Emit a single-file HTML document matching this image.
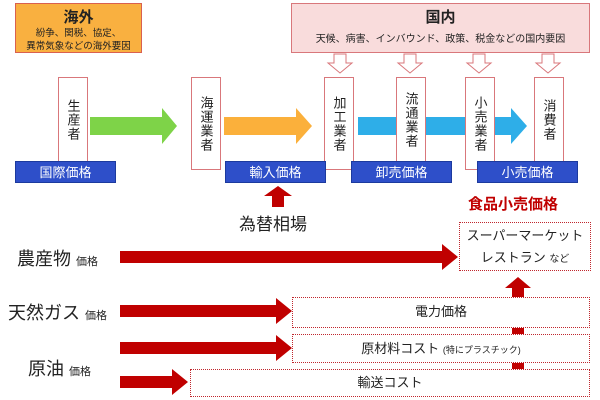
<!DOCTYPE html>
<html><head><meta charset="utf-8"><style>
body{margin:0;width:600px;height:400px;background:#fff;position:relative;overflow:hidden;font-family:"Liberation Sans","Noto Sans CJK JP",sans-serif;color:#222}
.a{position:absolute}
.v{position:absolute;border:1px solid #d9777b;background:#fff;writing-mode:vertical-rl;font-size:13px;display:flex;align-items:center;justify-content:center;letter-spacing:1px;box-sizing:border-box}
.p{position:absolute;background:#2e4fc9;color:#fff;font-size:13px;text-align:center;line-height:22px;height:22px;width:101px;border:1px solid #1c3a9e;box-sizing:border-box}
.d{position:absolute;border:1.5px dotted #c0272d;background:#fff;box-sizing:border-box;text-align:center;font-size:13px}
</style></head><body>
<div class="a" style="left:15px;top:3px;width:127px;height:50px;background:#f9b040;border:1px solid #d9604f;box-sizing:border-box;text-align:center">
<div style="font-weight:bold;font-size:15px;margin-top:2px">海外</div>
<div style="font-size:9.5px;line-height:13px">紛争、関税、協定、<br>異常気象などの海外要因</div></div>
<div class="a" style="left:291px;top:3px;width:299px;height:50px;background:#f9dcdc;border:1px solid #d9777b;box-sizing:border-box;text-align:center">
<div style="font-weight:bold;font-size:15px;margin-top:2px">国内</div>
<div style="font-size:10px;margin-top:3px">天候、病害、インバウンド、政策、税金などの国内要因</div></div>
<svg class="a" style="left:0;top:0" width="600" height="400">
<g fill="#fff" stroke="#d9777b" stroke-width="1">
<path d="M334 54h12v9h6l-12 10l-12-10h6z"/><path d="M404 54h12v9h6l-12 10l-12-10h6z"/><path d="M473 54h12v9h6l-12 10l-12-10h6z"/><path d="M542 54h12v9h6l-12 10l-12-10h6z"/></g>
<path d="M90 117h72v-9l15 18l-15 18v-9h-72z" fill="#7ed348"/>
<path d="M224 117h72v-9l16 18l-16 18v-9h-72z" fill="#fbb03b"/>
<path d="M358 117h153v-9l16 18l-16 18v-9h-153z" fill="#2eaee8"/>
<path d="M278 186l-14 10h8v11h12v-11h8z" fill="#c00000"/>
<g fill="#c00000">
<path d="M120 251h322v-7l16 13l-16 13v-7h-322z"/>
<path d="M120 305h156v-7l16 13l-16 13v-7h-156z"/>
<path d="M120 342h156v-7l16 13l-16 13v-7h-156z"/>
<path d="M120 376h52v-7l16 13l-16 13v-7h-52z"/>
<path d="M518 277l-13 11h7v9h12v-9h7z"/>
<rect x="512" y="328" width="12" height="6"/><rect x="512" y="362" width="12" height="7"/>
</g></svg>
<div class="v" style="left:58px;top:77px;width:30px;height:86px">生産者</div>
<div class="v" style="left:191px;top:77px;width:30px;height:93px">海運業者</div>
<div class="v" style="left:324px;top:77px;width:30px;height:93px">加工業者</div>
<div class="v" style="left:396px;top:77px;width:30px;height:86px">流通業者</div>
<div class="v" style="left:465px;top:77px;width:30px;height:93px">小売業者</div>
<div class="v" style="left:534px;top:77px;width:30px;height:86px">消費者</div>
<div class="p" style="left:15px;top:161px">国際価格</div>
<div class="p" style="left:225px;top:161px">輸入価格</div>
<div class="p" style="left:351px;top:161px">卸売価格</div>
<div class="p" style="left:477px;top:161px">小売価格</div>
<div class="a" style="left:239px;top:210px;font-size:17px">為替相場</div>
<div class="a" style="left:468px;top:193px;font-size:15px;font-weight:bold;color:#c00000">食品小売価格</div>
<div class="d" style="left:459px;top:222px;width:132px;height:49px;line-height:22px;padding-top:2px">スーパーマーケット<br>レストラン <span style="font-size:10px">など</span></div>
<div class="d" style="left:292px;top:297px;width:298px;height:31px;line-height:28px">電力価格</div>
<div class="d" style="left:292px;top:334px;width:298px;height:29px;line-height:27px">原材料コスト <span style="font-size:9px">(特にプラスチック)</span></div>
<div class="d" style="left:190px;top:369px;width:400px;height:28px;line-height:26px">輸送コスト</div>
<div class="a" style="left:17px;top:245px;font-size:18px">農産物 <span style="font-size:11px">価格</span></div>
<div class="a" style="left:8px;top:299px;font-size:18px">天然ガス <span style="font-size:11px">価格</span></div>
<div class="a" style="left:28px;top:355px;font-size:18px">原油 <span style="font-size:11px">価格</span></div>
</body></html>
